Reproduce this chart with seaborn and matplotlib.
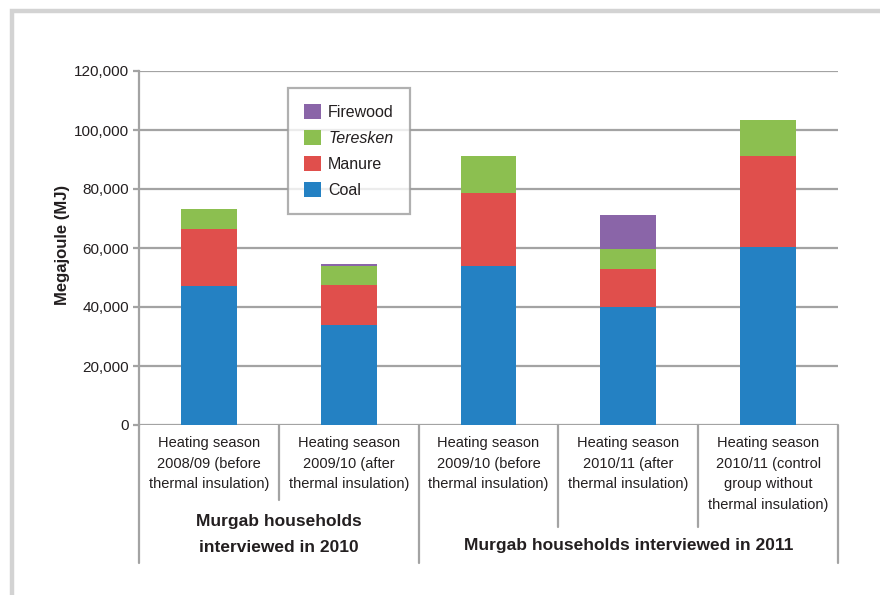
import numpy as np
import pandas as pd
import matplotlib
matplotlib.use("Agg")
import matplotlib.pyplot as plt
import seaborn as sns
from matplotlib.patches import Patch, Rectangle
from matplotlib.ticker import FuncFormatter, MultipleLocator

categories = [
    "Heating season\n2008/09 (before\nthermal insulation)",
    "Heating season\n2009/10 (after\nthermal insulation)",
    "Heating season\n2009/10 (before\nthermal insulation)",
    "Heating season\n2010/11 (after\nthermal insulation)",
    "Heating season\n2010/11 (control\ngroup without\nthermal insulation)",
]
coal = [47100, 33800, 53900, 40000, 60300]
manure = [19300, 13500, 24700, 12900, 30900]
teresken = [6800, 6600, 12600, 6800, 12200]
firewood = [0, 600, 0, 11500, 0]

groups = ["Murgab households\ninterviewed in 2010", "Murgab households interviewed in 2011"]
legend_names = ["Firewood", "Teresken", "Manure", "Coal"]

colors = {"Coal": "#2481c3", "Manure": "#e04f4c", "Teresken": "#8cbf50", "Firewood": "#8a65a8"}
grey = "#a3a3a3"
txt = "#231f20"

sns.set_style("white")
plt.rcParams["font.family"] = ["Liberation Sans", "DejaVu Sans"]

df = pd.DataFrame({"cat": categories, "Coal": coal, "Manure": manure,
                   "Teresken": teresken, "Firewood": firewood})
df["c1"] = df["Coal"]
df["c2"] = df["c1"] + df["Manure"]
df["c3"] = df["c2"] + df["Teresken"]
df["c4"] = df["c3"] + df["Firewood"]

fig = plt.figure(figsize=(8.8, 5.95), dpi=100)
ax = fig.add_axes([139 / 880, 1 - 425 / 595, 699 / 880, 354 / 595])

# light frame (top and left edge visible)
fig.patches.append(Rectangle((12 / 880, -0.2), 1.3, 1.2 - 11 / 595, transform=fig.transFigure,
                             fill=False, edgecolor="#d3d3d3", linewidth=3.2))

# stacked bars drawn as overlapping cumulative bars
for col, name in [("c4", "Firewood"), ("c3", "Teresken"), ("c2", "Manure"), ("c1", "Coal")]:
    sns.barplot(data=df, x="cat", y=col, color=colors[name], width=0.4, saturation=1,
                edgecolor="none", ax=ax, zorder=3)

ax.set_xlim(-0.5, 4.5)
ax.set_ylim(0, 120000)
ax.yaxis.set_major_locator(MultipleLocator(20000))
ax.yaxis.set_major_formatter(FuncFormatter(lambda v, p: f"{v:,.0f}"))
ax.yaxis.grid(True, color=grey, linewidth=1.6, zorder=0)
ax.set_axisbelow(True)

for s in ["top", "right", "bottom"]:
    ax.spines[s].set_visible(False)
ax.spines["left"].set_color(grey)
ax.spines["left"].set_linewidth(1.6)

ax.tick_params(axis="y", left=True, length=4, width=1.6, color=grey, labelsize=11,
               labelcolor=txt, pad=3)
ax.tick_params(axis="x", bottom=False, labelsize=10.5, labelcolor=txt, pad=4.5)
ax.set_xticks(range(5))
ax.set_xticklabels(categories)
for t in ax.get_xticklabels():
    t.set_linespacing(1.6)

ax.set_xlabel("")
ax.set_ylabel("Megajoule (MJ)", fontsize=12, fontweight="bold", color=txt)
ax.yaxis.set_label_coords(-0.099, 0.51)

# category separators below the axis
trans = ax.get_xaxis_transform()
for x, yb in [(-0.5, -0.39), (0.5, -0.212), (1.5, -0.39), (2.5, -0.288), (3.5, -0.288), (4.5, -0.39)]:
    ax.plot([x, x], [0, yb], transform=trans, clip_on=False, color=grey, linewidth=1.6)

ax.text(0.5, -0.309, groups[0], transform=trans, ha="center", va="center", fontsize=12.5,
        fontweight="bold", color=txt, linespacing=1.9)
ax.text(3.0, -0.339, groups[1], transform=trans, ha="center", va="center", fontsize=12.5,
        fontweight="bold", color=txt)

handles = [Patch(facecolor=colors[n], edgecolor="none") for n in legend_names]
leg = ax.legend(handles, legend_names, loc="upper left",
                bbox_to_anchor=((288 - 139) / 699, (425 - 88) / 354), borderaxespad=0,
                fontsize=11.5, frameon=True, fancybox=False, handlelength=1.06, handleheight=1.06,
                labelspacing=0.63, handletextpad=0.45, borderpad=1.0)
leg.get_frame().set_edgecolor("#9d9d9d")
leg.get_frame().set_linewidth(1.6)
for t in leg.get_texts():
    t.set_color(txt)
leg.get_texts()[1].set_fontstyle("italic")

fig.savefig("out.png", dpi=100)
